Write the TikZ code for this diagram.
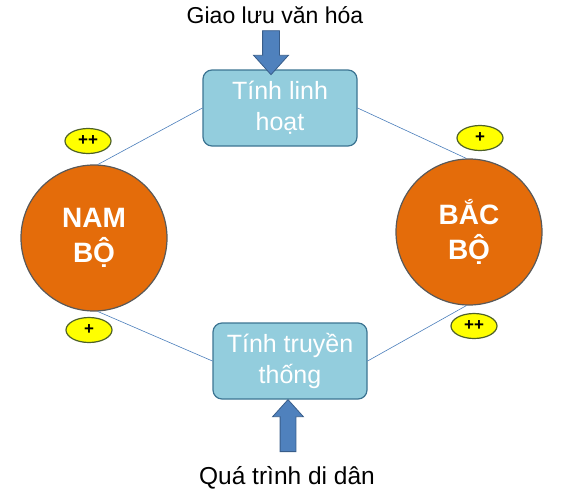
\documentclass[tikz,border=0pt]{standalone}
\usepackage{fontspec}
\setmainfont{Liberation Sans}
\usetikzlibrary{shapes.geometric,shapes.arrows}
\definecolor{boxblue}{RGB}{147,205,221}
\definecolor{boxedge}{RGB}{60,116,146}
\definecolor{regionorange}{RGB}{228,108,10}
\definecolor{linkblue}{RGB}{74,126,187}
\definecolor{arrowblue}{RGB}{79,129,189}
\definecolor{arrowedge}{RGB}{56,93,138}
\definecolor{markyellow}{RGB}{255,255,0}
\definecolor{markedge}{RGB}{79,98,40}

\begin{document}
\begin{tikzpicture}[x=1pt,y=-1pt,
  trait/.style={draw=boxedge,line width=1.2pt,fill=boxblue,rounded corners=9pt,
    minimum width=154pt,minimum height=76pt,text=white,align=center,
    font=\fontsize{25}{31}\selectfont},
  region/.style={circle,draw=black!65,line width=1.2pt,fill=regionorange,
    minimum size=146pt,text=white,align=center,
    font=\fontsize{28}{35}\selectfont\bfseries},
  signmark/.style={ellipse,draw=markedge,line width=1.2pt,fill=markyellow,
    minimum width=46pt,minimum height=25pt,inner sep=0pt,
    font=\fontsize{17}{17}\selectfont\bfseries},
  link/.style={linkblue,line width=0.6pt},
  push/.style={single arrow,draw=arrowedge,line width=0.8pt,fill=arrowblue,
    inner xsep=0pt,single arrow tip angle=84,single arrow head indent=0pt},
  caption/.style={anchor=base}]
  \useasboundingbox (0,0) rectangle (567,490);

  % the two traits
  \node[trait] (flex) at (280,108) {Tính linh\\hoạt};
  \node[trait] (trad) at (290,361) {Tính truyền\\thống};

  % the two regions
  \node[region] (south) at (94,238) {NAM\\BỘ};
  \node[region] (north) at (469,232) {BẮC\\BỘ};

  \draw[link] (south.87) -- (flex.west);
  \draw[link] (flex.east) -- (north.92);
  \draw[link] (south.-87) -- (trad.west);
  \draw[link] (trad.east) -- (north.-92);

  \node[signmark] (southup) at (88,141) {++};
  \node[signmark] (southdown) at (89,330) {+};
  \node[signmark] (northup) at (480,138) {+};
  \node[signmark] (northdown) at (474,326) {++};

  % causes
  \node[caption,font=\fontsize{23}{23}\selectfont] (culture) at (275,23) {Giao lưu văn hóa};
  \node[caption,font=\fontsize{24.5}{24.5}\selectfont] (migration) at (287,484) {Quá trình di dân};
  \node[push,rotate=-90,minimum height=44pt,inner ysep=8pt,
    single arrow head extend=9pt] (inflow) at (271,48) {};
  \node[push,rotate=90,minimum height=52pt,inner ysep=7.5pt,
    single arrow head extend=7.5pt] (outflow) at (288,430) {};
\end{tikzpicture}
\end{document}
